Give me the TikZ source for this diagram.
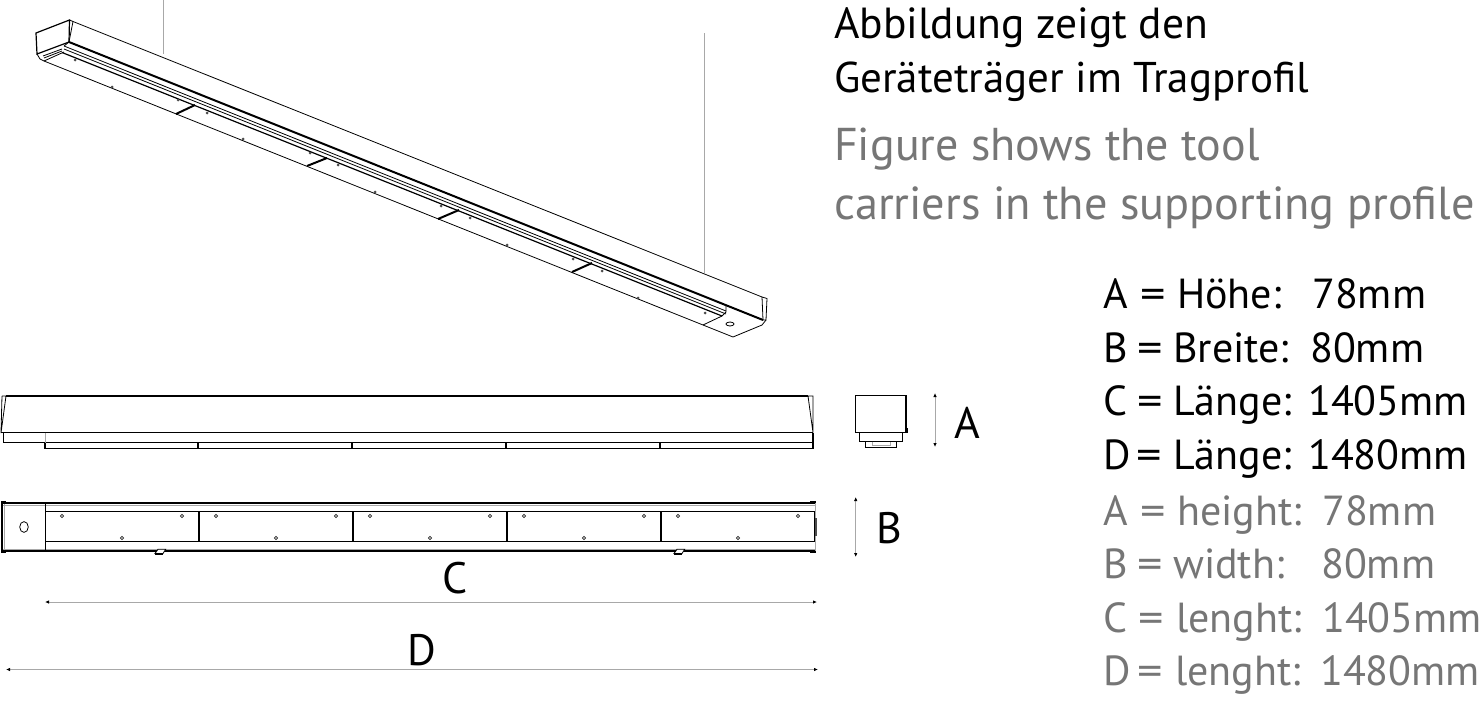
\documentclass[tikz,border=0pt]{standalone}
\usepackage{fontspec}
\setmainfont{PT Sans}
\usetikzlibrary{arrows.meta}
\definecolor{txtgray}{HTML}{767676}
\definecolor{dimgray}{HTML}{A8A8A8}
\tikzset{
  x=1pt,y=-1pt,
  lbl/.style={inner sep=0pt,anchor=base west,font=\fontsize{43.5}{43.5}\selectfont,text=black},
  lblgray/.style={inner sep=0pt,anchor=base west,font=\fontsize{46}{46}\selectfont,text=txtgray},
  rowtxt/.style={inner sep=0pt,anchor=base west,font=\fontsize{42}{42}\selectfont},
  dimlabel/.style={inner sep=0pt,font=\fontsize{44}{44}\selectfont,text=black},
  thinl/.style={line width=0.8pt,black},
  medl/.style={line width=1.2pt,black},
  thick2/.style={line width=2pt,black},
  grayl/.style={line width=1pt,dimgray},
  dimline/.style={line width=0.8pt,dimgray,{Latex[length=4pt,width=3.5pt,black]}-{Latex[length=4pt,width=3.5pt,black]}},
  dotm/.style={fill=black!70,draw=none},
}
\newcommand{\listrow}[9]{%
  \node[rowtxt,text=#2] (#1a) at (1103,#3) {#4};
  \node[rowtxt,text=#2] (#1b) at (#5-2,#3) {\scalebox{1.2}[1]{=}};
  \node[rowtxt,text=#2] (#1c) at (#6,#3) {#7};
  \node[rowtxt,text=#2] (#1d) at (#8,#3) {#9};
}
\begin{document}
\begin{tikzpicture}
\useasboundingbox (0,0) rectangle (1483,704);
\fill[white] (0,0) rectangle (1483,704);
% hangers
\draw[grayl] (163,0) -- (163,54);
\draw[grayl] (704,33) -- (704,273);
% perspective
\draw[medl] (37,54) -- (36,33) -- (69.5,20) -- (69,42) -- cycle;
\draw[thinl] (69.5,20) -- (73,21.5) -- (69,42);
\draw[thinl] (73,21.5) -- (762,297);
\draw[thick2] (69,42) -- (763,320);
\draw[thinl] (762,297) -- (767,298.5) -- (766,320) -- (763,320) -- cycle;
\draw[thinl] (64,46) -- (726,311);
\draw[thinl] (64,49) -- (726,314);
\draw[medl] (62,52.5) -- (722,316);
\draw[thinl] (726,305) -- (726,312) -- (722,316) -- (703,325);
\draw[thinl] (44,61) -- (703,325) -- (733,337) -- (762,325) -- (766,320);
\draw[thinl] (37,54) -- (40,59) -- (44,61) -- (64,52);
\draw[thinl] (43,56) -- (62,49);
\draw[thinl] (44,58) -- (62,51);
\draw[thinl] (69,42) -- (64,46);
\draw[thinl] (730,324) ellipse [x radius=4,y radius=2];
\foreach \a/\b/\c/\d in {176/114/195/105,307/166/327/158,438/219/459/210,572/272/592/263}
  \draw[thick2] (\a,\b) -- (\c,\d);
\foreach \p in {(75,60),(112,87),(178,100),(207,113),(243,139),(310,153),(338,165),(375,192),(441,206),(470,218),(507,245),(573,259),(602,271),(638,298),(705,313)}
  \fill[dotm] \p circle (1.5);
% side view
\draw[medl] (6,396) -- (808,396);
\draw[thinl] (2,396) -- (6,396) -- (1,433) -- (2,396);
\draw[thinl] (1,432.5) -- (813,432.5);
\draw[thinl] (808,396) -- (813,396) -- (813,432.5) -- cycle;
\draw[thinl] (3,432.5) -- (3,442.5) -- (813,442.5);
\draw[grayl] (45,432.5) -- (45,442.5);
\draw[medl] (45,442.5) -- (45,448.5) -- (813,448.5) -- (813,432.5);
\foreach \x in {198,352,506,660} \draw[line width=1.6pt] (\x,442.5) -- (\x,448.5);
% section
\draw[line width=1.4pt] (855.7,395.7) rectangle (906,432.7);
\fill (905.5,428) rectangle (907.5,433);
\draw[thinl] (859,432.7) -- (859,441.7) -- (902.7,441.7) -- (902.7,432.7);
\draw[medl] (865.7,441.7) -- (865.7,447.3) -- (896.7,447.3) -- (896.7,441.7);
\draw[grayl] (872.3,441.7) -- (872.3,445) -- (890,445) -- (890,441.7);
% plan view
\draw[line width=1pt,dimgray] (2,505) -- (815,505);
\draw[line width=1pt,dimgray] (2,549) -- (815,549);
\draw[thick2] (2,503) -- (816,503);
\draw[thick2] (2,551) -- (816,551);
\draw[line width=1.5pt] (2,501) -- (2,553);
\fill (0.5,501) rectangle (6,503.5);
\fill (0.5,550.5) rectangle (6,553);
\fill (810,501) rectangle (816,503.5);
\fill (810,550.5) rectangle (816,553);
\draw[grayl] (4.5,504) -- (4.5,550);
\draw[thinl] (45.5,503) -- (45.5,551);
\draw[medl] (45.5,511.7) rectangle (815,541.7);
\draw[grayl] (815,503) -- (815,551);
\draw[line width=1.5pt,black!70] (816,518) -- (816,536);
\foreach \x in {199,353,507,661} \draw[line width=1.6pt] (\x,511.7) -- (\x,541.7);
\draw[thinl] (24,527) ellipse [x radius=4.3,y radius=5.4];
\foreach \x in {0,154,308,462,616} {
  \draw[line width=0.8pt,black!85] (62+\x,516) circle (1.6);
  \draw[line width=0.8pt,black!85] (182+\x,516) circle (1.6);
  \draw[line width=0.8pt,black!85] (122+\x,538) circle (1.6);
}
\foreach \x in {0,519} {
  \draw[thinl,fill=white] (155+\x,553.5) -- (163+\x,553.5) -- (165.7+\x,549.3) -- (158+\x,549.3) -- cycle;
  \draw[line width=1.4pt] (154.5+\x,554) -- (163+\x,554);
}
% dimensions
\coordinate (Atop) at (935,393);
\coordinate (Abot) at (935,447);
\coordinate (Btop) at (855.7,497);
\coordinate (Bbot) at (855.7,557);
\coordinate (Cl) at (45,602);
\coordinate (Cr) at (817,602);
\coordinate (Dl) at (6,669.5);
\coordinate (Dr) at (818,669.5);
\draw[dimline] (Atop) -- (Abot);
\draw[dimline] (Btop) -- (Bbot);
\draw[dimline] (Cl) -- (Cr);
\draw[dimline] (Dl) -- (Dr);
\node[dimlabel] (labA) at (967,423) {A};
\node[dimlabel] (labB) at (889,528) {B};
\node[dimlabel] (labC) at (455,578) {C};
\node[dimlabel] (labD) at (422,650) {D};
% heading
\node[lbl] (t1) at (834,38) {Abbildung zeigt den};
\node[lbl,font=\fontsize{43}{43}\selectfont] (t2) at (834,92) {Geräteträger im Tragprofil};
\node[lblgray] (t3) at (834,160) {Figure shows the tool};
\node[lblgray,font=\fontsize{46.3}{46.3}\selectfont] (t4) at (834,219) {carriers in the supporting profile};
% list
\listrow{r1}{black}{308}{A}{1142}{1177}{Höhe:}{1312}{78mm}
\listrow{r2}{black}{362}{B}{1139}{1173}{Breite:}{1310}{80mm}
\listrow{r3}{black}{415}{C}{1139}{1173}{Länge:}{1308}{1405mm}
\listrow{r4}{black}{469}{D}{1138}{1173}{Länge:}{1308}{1480mm}
\listrow{r5}{txtgray}{525}{A}{1142}{1177}{height:}{1322}{78mm}
\listrow{r6}{txtgray}{578}{B}{1139}{1173}{width:}{1321}{80mm}
\listrow{r7}{txtgray}{632}{C}{1140}{1176}{lenght:}{1322}{1405mm}
\listrow{r8}{txtgray}{685}{D}{1139}{1175}{lenght:}{1320}{1480mm}
\end{tikzpicture}
\end{document}
